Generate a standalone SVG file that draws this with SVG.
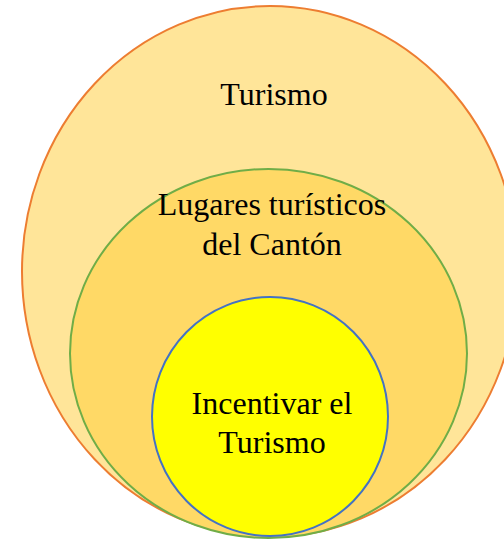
<svg xmlns="http://www.w3.org/2000/svg" width="504" height="540" viewBox="0 0 504 540">
<style>
text{font-family:'Liberation Serif','DejaVu Serif',serif;font-size:32px;fill:#000;text-anchor:middle}
</style>
<rect width="504" height="540" fill="#fff"/>
<g id="turismo">
<ellipse cx="270" cy="271.5" rx="248" ry="265.5" fill="#FFE599" stroke="#ED7D31" stroke-width="2"/>
<text x="274" y="105" font-family="Liberation Serif, serif">Turismo</text>
</g>
<g id="lugares">
<ellipse cx="268.5" cy="353.5" rx="198.5" ry="184.5" fill="#FFD966" stroke="#70AD47" stroke-width="2"/>
<text x="272" y="215" font-family="Liberation Serif, serif">Lugares turísticos</text>
<text x="272" y="255" font-family="Liberation Serif, serif">del Cantón</text>
</g>
<g id="incentivar">
<ellipse cx="270" cy="416.5" rx="118" ry="119.5" fill="#FFFF00" stroke="#4472C4" stroke-width="2"/>
<text x="272" y="414" font-family="Liberation Serif, serif">Incentivar el</text>
<text x="272" y="453" font-family="Liberation Serif, serif">Turismo</text>
</g>
<g id="connectors"/>
</svg>
